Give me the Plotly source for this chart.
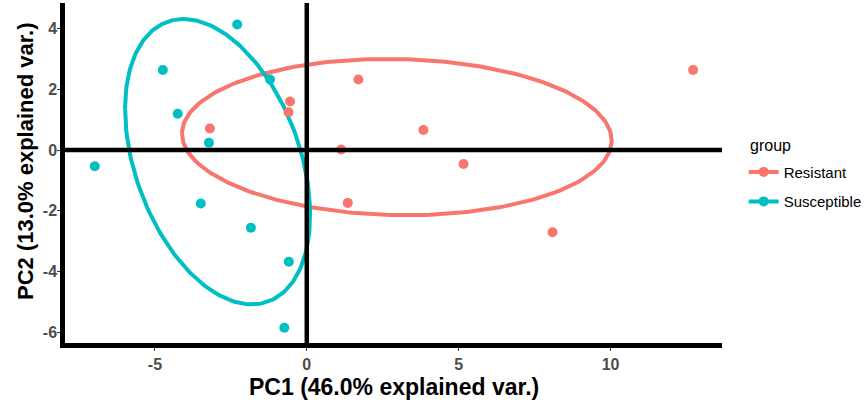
import numpy as np
import plotly.graph_objects as go

# ---- data ----
res_pc1 = [-0.55, -0.60, -3.19, 1.70, 12.72, 3.84, 1.13, 5.16, 1.35, 8.09]
res_pc2 = [1.60, 1.25, 0.71, 2.33, 2.64, 0.66, 0.02, -0.46, -1.74, -2.71]
sus_pc1 = [-6.98, -2.29, -4.74, -4.25, -3.22, -3.49, -1.84, -0.59, -0.74, -1.21]
sus_pc2 = [-0.53, 4.14, 2.64, 1.20, 0.24, -1.76, -2.56, -3.68, -5.86, 2.33]
groups = ["Resistant", "Susceptible"]
colors = {"Resistant": "#F8766D", "Susceptible": "#00BFC4"}
x_ticks = [-5, 0, 5, 10]
x_tick_text = ["-5", "0", "5", "10"]
y_ticks = [-6, -4, -2, 0, 2, 4]
y_tick_text = ["-6", "-4", "-2", "0", "2", "4"]
x_title = "PC1 (46.0% explained var.)"
y_title = "PC2 (13.0% explained var.)"
legend_title = "group"
ellipse_prob = 0.68

data = {"Resistant": (res_pc1, res_pc2), "Susceptible": (sus_pc1, sus_pc2)}


def ellipse(x, y, prob):
    xy = np.column_stack([x, y])
    mu = xy.mean(axis=0)
    sigma = np.cov(xy, rowvar=False)
    ed = np.sqrt(-2 * np.log(1 - prob))  # sqrt(qchisq(prob, 2))
    t = np.linspace(-np.pi, np.pi, 241)
    circ = np.column_stack([np.cos(t), np.sin(t)])
    L = np.linalg.cholesky(sigma)
    pts = circ @ L.T * ed + mu
    return pts[:, 0], pts[:, 1]


fig = go.Figure()
for g in groups:
    x, y = data[g]
    ex, ey = ellipse(x, y, ellipse_prob)
    fig.add_trace(go.Scatter(x=ex, y=ey, mode="lines", showlegend=False,
                             line=dict(color=colors[g], width=4), hoverinfo="skip"))
for g in groups:
    x, y = data[g]
    fig.add_trace(go.Scatter(x=x, y=y, mode="markers", showlegend=False,
                             marker=dict(color=colors[g], size=10)))
for g in groups:
    fig.add_trace(go.Scatter(x=[None], y=[None], mode="lines+markers", name=g,
                             legendgroup=g,
                             line=dict(color=colors[g], width=4),
                             marker=dict(color=colors[g], size=10)))

# reference lines at 0 (drawn above points)
fig.add_shape(type="line", xref="x", yref="paper", x0=0, x1=0, y0=0, y1=1,
              line=dict(color="black", width=4.5), layer="above")
fig.add_shape(type="line", xref="paper", yref="y", x0=0, x1=1, y0=0, y1=0,
              line=dict(color="black", width=4.5), layer="above")

font_family = "Liberation Sans, Arial, sans-serif"
axis_common = dict(showgrid=False, zeroline=False, showline=True, linecolor="black",
                   linewidth=4.5, ticks="outside", ticklen=3, tickcolor="#333333",
                   tickwidth=1, automargin=False,
                   tickfont=dict(family=font_family, size=16, color="#4D4D4D",
                                 weight="bold"))

fig.update_layout(
    width=868, height=402,
    margin=dict(l=65, r=146, t=3, b=59, autoexpand=False),
    plot_bgcolor="white", paper_bgcolor="white",
    font=dict(family=font_family),
    xaxis=dict(range=[-7.96, 13.67], tickvals=x_ticks, ticktext=x_tick_text,
               ticklabelstandoff=0, **axis_common),
    yaxis=dict(range=[-6.36, 4.85], tickvals=y_ticks, ticktext=y_tick_text,
               ticklabelstandoff=-3, **axis_common),
    legend=dict(x=1.033, xanchor="left", y=0.551, yanchor="top",
                font=dict(size=15, color="black"), itemwidth=30,
                tracegroupgap=7, bgcolor="rgba(0,0,0,0)"),
    annotations=[
        dict(text=x_title, xref="paper", yref="paper", x=0.5, y=-0.128,
             xanchor="center", yanchor="middle", showarrow=False,
             font=dict(family=font_family, size=23, color="black", weight="bold")),
        dict(text=y_title, xref="paper", yref="paper", x=-0.061, y=0.535,
             xanchor="center", yanchor="middle", showarrow=False, textangle=-90,
             font=dict(family=font_family, size=22, color="black", weight="bold")),
        dict(text=legend_title, xref="paper", yref="paper", x=1.04, y=0.582,
             xanchor="left", yanchor="middle", showarrow=False,
             font=dict(family=font_family, size=16, color="black")),
    ],
)

fig.write_html("out.html", config={"displayModeBar": False},
               post_script="document.body.style.margin='0';")
